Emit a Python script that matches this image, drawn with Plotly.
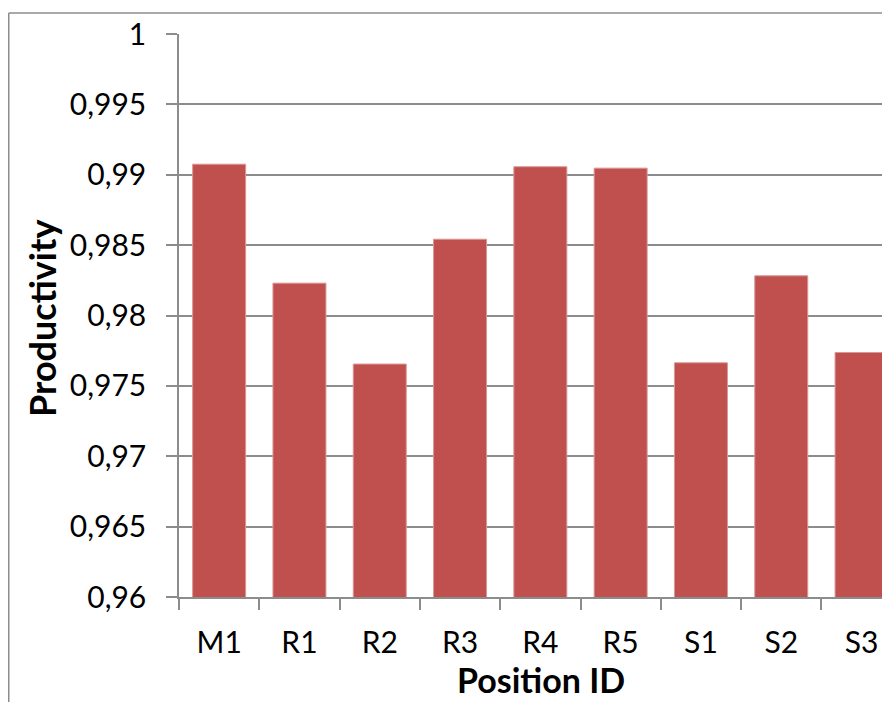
import plotly.graph_objects as go

categories = ["M1", "R1", "R2", "R3", "R4", "R5", "S1", "S2", "S3"]
productivity = [0.99075, 0.98230, 0.97655, 0.98542, 0.99057, 0.99047, 0.97664, 0.98282, 0.97737]
tick_vals = [0.96, 0.965, 0.97, 0.975, 0.98, 0.985, 0.99, 0.995, 1.0]
tick_text = ["0,96", "0,965", "0,97", "0,975", "0,98", "0,985", "0,99", "0,995", "1"]

# page has an 8px body margin, so figure coords = page coords - 8
OFF = 8
W, H = 890 - OFF, 702 - OFF
L, R, T = 179 - OFF, 0, 34 - OFF
B = H - (597 - OFF)
pw = W - L - R
ph = H - T - B

def px_to_paper_x(px):
    return (px - OFF - L) / pw

def px_to_paper_y(py):
    return (H - B - (py - OFF)) / ph

grid = "#8C8C8C"
font_family = "Lato, 'Open Sans', sans-serif"

fig = go.Figure(go.Bar(
    x=categories, y=productivity,
    marker=dict(color="#C0504D", line=dict(color="#D89896", width=1)),
    width=0.66,
))

fig.update_layout(
    width=W, height=H,
    margin=dict(l=L, r=R, t=T, b=B),
    paper_bgcolor="white", plot_bgcolor="white",
    showlegend=False,
    font=dict(family=font_family, color="black"),
)

fig.update_xaxes(
    range=[-0.5, -0.5 + pw / 80.3],
    showgrid=False,
    showline=True, linecolor=grid, linewidth=1.5,
    ticks="outside", tickson="boundaries", ticklen=11, tickcolor=grid, tickwidth=1.5,
    tickfont=dict(size=30, family=font_family),
    ticklabelstandoff=18,
)
fig.update_yaxes(
    range=[0.96, 1.0],
    tickvals=tick_vals, ticktext=tick_text,
    showgrid=True, gridcolor=grid, gridwidth=1.5,
    showline=True, linecolor=grid, linewidth=1.5,
    ticks="outside", ticklen=11, tickcolor=grid, tickwidth=1.5,
    tickfont=dict(size=30, family=font_family),
    ticklabelstandoff=14,
    zeroline=False,
)

fig.add_annotation(
    text="<b>Position ID</b>", xref="paper", yref="paper",
    x=px_to_paper_x(541), y=px_to_paper_y(701),
    showarrow=False, font=dict(size=34, family=font_family),
    xanchor="center", yanchor="bottom", borderpad=0,
)
fig.add_annotation(
    text="<b>Productivity</b>", xref="paper", yref="paper",
    x=px_to_paper_x(42), y=px_to_paper_y(319), textangle=-90,
    showarrow=False, font=dict(size=36, family=font_family),
    xanchor="center", yanchor="middle",
)

# outer chart border (left and top edges visible)
fig.add_shape(type="line", xref="paper", yref="paper",
              x0=px_to_paper_x(8.75), x1=px_to_paper_x(8.75),
              y0=px_to_paper_y(13), y1=px_to_paper_y(710),
              line=dict(color="#8C8C8C", width=1.5))
fig.add_shape(type="line", xref="paper", yref="paper",
              x0=px_to_paper_x(8.75), x1=px_to_paper_x(900),
              y0=px_to_paper_y(13), y1=px_to_paper_y(13),
              line=dict(color="#8C8C8C", width=1.5))

fig.write_html("out.html")
